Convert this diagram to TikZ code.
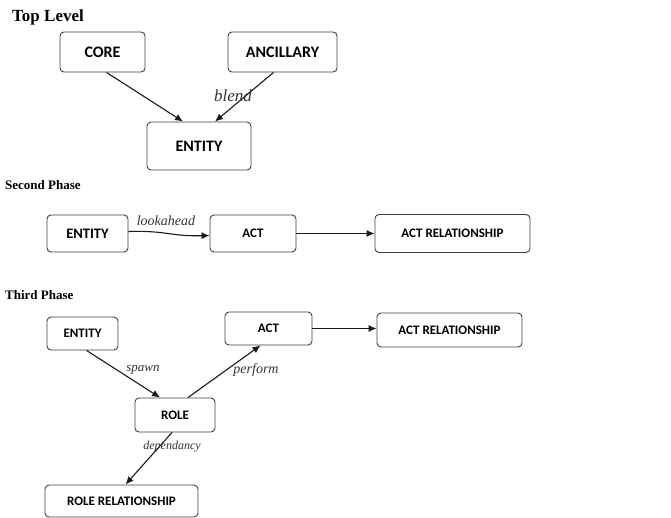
\documentclass[tikz,border=0pt]{standalone}
\usepackage{fontspec}
\setmainfont{Liberation Serif}
\newfontfamily\boxfont{Carlito}
\usetikzlibrary{arrows.meta,calc}
\begin{document}
\begin{tikzpicture}[x=1pt,y=-1pt,
  box/.style={draw=black!75,line width=0.9pt,rounded corners=4pt,fill=white,
    font=\boxfont\bfseries\fontsize{13}{15}\selectfont,inner sep=0pt,align=center},
  bigbox/.style={box,font=\boxfont\bfseries\fontsize{16}{18}\selectfont},
  title/.style={anchor=west,font=\bfseries\fontsize{13}{15}\selectfont,inner sep=0pt},
  conn/.style={draw=black!90,line width=1.1pt,-{Latex[length=8pt,width=7pt]}},
  elabel/.style={font=\itshape\fontsize{13}{15}\selectfont,text=black!80,inner sep=1pt}]
\useasboundingbox (0,0) rectangle (671,518);

% Top Level
\node[title,font=\bfseries\fontsize{17}{19}\selectfont] (t1) at (12,17) {Top Level};
\node[bigbox,minimum width=85pt,minimum height=40pt] (core) at (102.5,52) {CORE};
\node[bigbox,minimum width=109pt,minimum height=40pt] (anc) at (282.5,52) {ANCILLARY};
\node[bigbox,minimum width=104pt,minimum height=48pt] (ent1) at (199,146) {ENTITY};
\draw[conn] ($(core.south)+(4,0)$) -- ($(ent1.north)+(-16,0)$);
\draw[conn] ($(anc.south)+(-9,0)$) -- ($(ent1.north)+(16,0)$);
\node[elabel,font=\itshape\fontsize{17}{19}\selectfont] (lb1) at (233,96) {blend};

% Second Phase
\node[title] (t2) at (5,185) {Second Phase};
\node[box,font=\boxfont\bfseries\fontsize{14.5}{16}\selectfont,minimum width=81pt,minimum height=37pt] (ent2) at (87.5,233.5) {ENTITY};
\node[box,minimum width=86pt,minimum height=37pt] (act2) at (253,233.5) {ACT};
\node[box,minimum width=155pt,minimum height=38pt] (ar2) at (452.5,233.5) {ACT RELATIONSHIP};
\draw[conn] ($(ent2.east)+(0,-2)$) .. controls ($(ent2.east)+(40,-3)$) and ($(act2.west)+(-40,3)$) .. ($(act2.west)+(0,2)$);
\node[elabel,font=\itshape\fontsize{14}{16}\selectfont] (lb2) at (166,221) {lookahead};
\draw[conn] (act2.east) -- (act2.east -| ar2.west);

% Third Phase
\node[title] (t3) at (5,295) {Third Phase};
\node[box,minimum width=71pt,minimum height=33pt] (ent3) at (82.5,333.5) {ENTITY};
\node[box,minimum width=87pt,minimum height=33pt] (act3) at (268.5,328.5) {ACT};
\node[box,minimum width=145pt,minimum height=34pt] (ar3) at (449.5,330) {ACT RELATIONSHIP};
\node[box,minimum width=80pt,minimum height=34pt] (role) at (175,415) {ROLE};
\node[box,minimum width=153pt,minimum height=32pt] (rr) at (121.5,501) {ROLE RELATIONSHIP};
\draw[conn] ($(ent3.south)+(4,0)$) -- ($(role.north)+(-15,0)$);
\draw[conn] ($(role.north)+(13,0)$) -- ($(act3.south)+(-8,0)$);
\draw[conn] (act3.east) -- (act3.east -| ar3.west);
\draw[conn] ($(role.south)+(-3,0)$) -- ($(rr.north)+(4,0)$);
\node[elabel] (lb3) at (143,370) {spawn};
\node[elabel,font=\itshape\fontsize{14}{16}\selectfont] (lb4) at (256,370) {perform};
\node[elabel,font=\itshape\fontsize{12}{14}\selectfont] (lb5) at (172,447) {dependancy};
\end{tikzpicture}
\end{document}
